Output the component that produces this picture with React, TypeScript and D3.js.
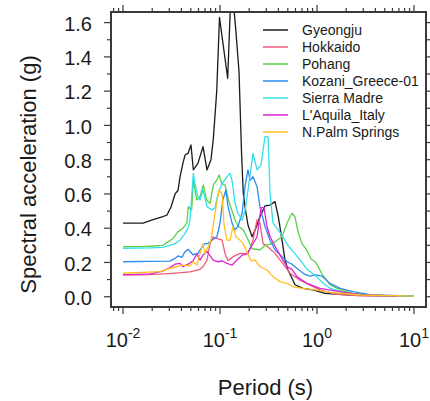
import React from 'react';
import * as d3 from 'd3';

const width = 430;
const height = 401;
// plot frame in page pixels
const plot = { left: 111, right: 426, top: 12, bottom: 307 };

// ---- data (period in s, spectral acceleration in g) ----
const gyeongjuT = [0.01, 0.0161, 0.0204, 0.0258, 0.0284, 0.0313, 0.0344, 0.0369, 0.0387, 0.0415, 0.0436, 0.0468, 0.0502, 0.0531, 0.0593, 0.0668, 0.0734, 0.0807, 0.0853, 0.0925, 0.0988, 0.120, 0.131, 0.146, 0.157, 0.167, 0.174, 0.181, 0.194, 0.214, 0.230, 0.258, 0.291, 0.328, 0.369, 0.399, 0.436, 0.468, 0.502, 0.540, 0.593, 0.718, 0.931, 1.21, 2.19, 5, 10];
const gyeongjuSa = [0.43, 0.43, 0.45, 0.467, 0.477, 0.525, 0.60, 0.62, 0.70, 0.78, 0.827, 0.837, 0.886, 0.74, 0.78, 0.876, 0.74, 0.80, 0.92, 1.2, 1.63, 1.275, 1.85, 1.547, 1.314, 0.827, 0.60, 0.526, 0.42, 0.35, 0.39, 0.467, 0.53, 0.535, 0.555, 0.467, 0.33, 0.214, 0.156, 0.12, 0.07, 0.049, 0.039, 0.02, 0.01, 0.005, 0.004];

const hokkaidoT = [0.01, 0.0161, 0.0241, 0.0344, 0.0491, 0.0622, 0.0668, 0.0734, 0.0789, 0.085, 0.0925, 0.105, 0.113, 0.121, 0.136, 0.161, 0.194, 0.219, 0.241, 0.258, 0.278, 0.313, 0.369, 0.436, 0.527, 0.668, 0.847, 1.07, 1.53, 2.77, 6.68];
const hokkaidoSa = [0.127, 0.128, 0.132, 0.138, 0.145, 0.16, 0.175, 0.214, 0.31, 0.35, 0.34, 0.33, 0.25, 0.21, 0.234, 0.253, 0.25, 0.33, 0.448, 0.43, 0.31, 0.29, 0.253, 0.2, 0.137, 0.097, 0.068, 0.04, 0.015, 0.005, 0.003];

const pohangT = [0.01, 0.0161, 0.0204, 0.0258, 0.0291, 0.0328, 0.0369, 0.0415, 0.0454, 0.0471, 0.0510, 0.0531, 0.0575, 0.0622, 0.0673, 0.0728, 0.0789, 0.0853, 0.0925, 0.0983, 0.104, 0.113, 0.122, 0.132, 0.143, 0.155, 0.174, 0.196, 0.214, 0.258, 0.291, 0.344, 0.387, 0.436, 0.491, 0.552, 0.593, 0.637, 0.700, 0.789, 0.867, 0.977, 1.13, 1.36, 1.73, 2.35, 4.46, 10];
const pohangSa = [0.292, 0.293, 0.296, 0.30, 0.32, 0.34, 0.38, 0.40, 0.43, 0.526, 0.506, 0.68, 0.565, 0.584, 0.652, 0.565, 0.545, 0.652, 0.68, 0.71, 0.66, 0.652, 0.565, 0.506, 0.448, 0.41, 0.39, 0.33, 0.28, 0.273, 0.30, 0.31, 0.33, 0.35, 0.43, 0.487, 0.467, 0.38, 0.31, 0.27, 0.22, 0.20, 0.13, 0.07, 0.04, 0.02, 0.008, 0.003];

const kozaniT = [0.01, 0.019, 0.0305, 0.0344, 0.0369, 0.0406, 0.0436, 0.0468, 0.0527, 0.0593, 0.0652, 0.0700, 0.0752, 0.0827, 0.0931, 0.1, 0.107, 0.115, 0.121, 0.133, 0.143, 0.153, 0.169, 0.181, 0.194, 0.204, 0.219, 0.241, 0.258, 0.291, 0.328, 0.369, 0.436, 0.491, 0.552, 0.637, 0.752, 0.847, 0.953, 1.13, 1.36, 1.73, 2.35, 3.52, 10];
const kozaniSa = [0.204, 0.206, 0.208, 0.224, 0.238, 0.23, 0.263, 0.277, 0.245, 0.253, 0.29, 0.31, 0.31, 0.33, 0.35, 0.43, 0.565, 0.623, 0.526, 0.43, 0.39, 0.41, 0.487, 0.642, 0.74, 0.68, 0.70, 0.642, 0.526, 0.41, 0.33, 0.273, 0.234, 0.204, 0.19, 0.16, 0.13, 0.12, 0.127, 0.12, 0.078, 0.049, 0.03, 0.012, 0.003];

const sierraT = [0.01, 0.019, 0.0258, 0.0305, 0.0344, 0.0387, 0.0436, 0.0468, 0.0491, 0.0531, 0.0552, 0.0593, 0.0622, 0.0668, 0.0734, 0.0827, 0.0888, 0.0953, 0.105, 0.118, 0.127, 0.133, 0.143, 0.153, 0.169, 0.181, 0.194, 0.204, 0.219, 0.241, 0.265, 0.291, 0.313, 0.328, 0.352, 0.399, 0.446, 0.502, 0.593, 0.700, 0.789, 0.977, 1.15, 1.36, 1.94, 3.52, 10];
const sierraSa = [0.283, 0.285, 0.288, 0.30, 0.31, 0.33, 0.37, 0.40, 0.45, 0.72, 0.66, 0.584, 0.565, 0.623, 0.526, 0.506, 0.52, 0.60, 0.66, 0.70, 0.72, 0.68, 0.545, 0.487, 0.448, 0.50, 0.62, 0.71, 0.837, 0.74, 0.77, 0.934, 0.934, 0.60, 0.43, 0.39, 0.35, 0.30, 0.25, 0.20, 0.16, 0.12, 0.08, 0.05, 0.02, 0.008, 0.003];

const aquilaT = [0.01, 0.019, 0.0258, 0.0305, 0.0344, 0.0387, 0.0415, 0.0468, 0.0527, 0.0579, 0.0622, 0.0668, 0.0734, 0.0789, 0.0850, 0.0953, 0.105, 0.118, 0.133, 0.150, 0.169, 0.190, 0.209, 0.241, 0.265, 0.284, 0.305, 0.328, 0.387, 0.446, 0.491, 0.552, 0.622, 0.789, 1.07, 1.73, 2.77, 6.68];
const aquilaSa = [0.127, 0.133, 0.15, 0.17, 0.19, 0.195, 0.175, 0.19, 0.21, 0.25, 0.214, 0.243, 0.265, 0.24, 0.214, 0.204, 0.21, 0.195, 0.185, 0.214, 0.243, 0.25, 0.29, 0.35, 0.52, 0.52, 0.41, 0.35, 0.273, 0.214, 0.175, 0.16, 0.117, 0.078, 0.049, 0.03, 0.012, 0.004];

const palmT = [0.01, 0.0241, 0.0305, 0.0360, 0.0406, 0.0491, 0.0527, 0.0579, 0.0622, 0.0668, 0.0700, 0.0752, 0.0807, 0.0888, 0.0977, 0.105, 0.110, 0.118, 0.127, 0.136, 0.146, 0.161, 0.173, 0.190, 0.209, 0.230, 0.258, 0.305, 0.352, 0.416, 0.491, 0.566, 0.718, 1.0, 1.36, 2.77, 10];
const palmSa = [0.137, 0.146, 0.166, 0.175, 0.185, 0.18, 0.204, 0.185, 0.253, 0.31, 0.253, 0.29, 0.33, 0.49, 0.623, 0.60, 0.42, 0.33, 0.33, 0.41, 0.35, 0.33, 0.31, 0.26, 0.21, 0.214, 0.175, 0.156, 0.117, 0.088, 0.078, 0.058, 0.049, 0.039, 0.025, 0.01, 0.003];

const seriesNames = ['Gyeongju', 'Hokkaido', 'Pohang', 'Kozani_Greece-01', 'Sierra Madre', "L'Aquila_Italy", 'N.Palm Springs'];
const seriesColors = ['#1a1a1a', '#ee5c7a', '#5ccf4a', '#2b8cf0', '#33e0ea', '#e022d2', '#fdc020'];
const seriesT = [gyeongjuT, hokkaidoT, pohangT, kozaniT, sierraT, aquilaT, palmT];
const seriesSa = [gyeongjuSa, hokkaidoSa, pohangSa, kozaniSa, sierraSa, aquilaSa, palmSa];

const yMajorTicks = [0, 0.2, 0.4, 0.6, 0.8, 1.0, 1.2, 1.4, 1.6];
const yMinorTicks = [0.1, 0.3, 0.5, 0.7, 0.9, 1.1, 1.3, 1.5];
const xDecades = [-2, -1, 0, 1];

const fontFamily = '"Liberation Sans", Arial, sans-serif';
const axisColor = '#3a3a3a';

export default function App() {
  const x = d3.scaleLog()
    .domain([Math.pow(10, -2.124), Math.pow(10, 1.124)])
    .range([plot.left, plot.right]);
  const y = d3.scaleLinear()
    .domain([-0.06, 1.662])
    .range([plot.bottom, plot.top]);

  const [d0, d1] = x.domain();
  const xMinor: number[] = [];
  for (let n = -3; n <= 1; n++) {
    for (let k = 2; k <= 9; k++) {
      const v = k * Math.pow(10, n);
      if (v >= d0 && v <= d1) xMinor.push(v);
    }
  }

  const line = d3.line<[number, number]>()
    .x((d) => x(d[0]))
    .y((d) => y(d[1]));

  const majorLen = 7;
  const minorLen = 4;

  return (
    <svg width={width} height={height}
      style={{ position: 'absolute', left: 0, top: 0, background: '#fff' }}
      fontFamily={fontFamily}>
      <defs>
        <clipPath id="plotClip">
          <rect x={plot.left} y={plot.top} width={plot.right - plot.left} height={plot.bottom - plot.top} />
        </clipPath>
      </defs>

      {/* series */}
      <g clipPath="url(#plotClip)">
        {seriesNames.map((name, i) => {
          const pts = seriesT[i].map((t, j) => [t, seriesSa[i][j]] as [number, number]);
          return (
            <path key={name} d={line(pts) || ''} fill="none"
              stroke={seriesColors[i]} strokeWidth={1.3} strokeLinejoin="round" />
          );
        })}
      </g>

      {/* ticks */}
      <g stroke={axisColor} strokeWidth={1.2}>
        {yMajorTicks.map((v) => (
          <g key={'ym' + v}>
            <line x1={plot.left - majorLen} x2={plot.left} y1={y(v)} y2={y(v)} />
            <line x1={plot.right} x2={plot.right + 5} y1={y(v)} y2={y(v)} />
          </g>
        ))}
        {yMinorTicks.map((v) => (
          <g key={'yn' + v}>
            <line x1={plot.left - minorLen} x2={plot.left} y1={y(v)} y2={y(v)} />
            <line x1={plot.right} x2={plot.right + 5} y1={y(v)} y2={y(v)} />
          </g>
        ))}
        {xDecades.map((n) => {
          const px = x(Math.pow(10, n));
          return (
            <g key={'xm' + n}>
              <line x1={px} x2={px} y1={plot.bottom} y2={plot.bottom + majorLen} />
              <line x1={px} x2={px} y1={plot.top} y2={plot.top - majorLen} />
            </g>
          );
        })}
        {xMinor.map((v) => (
          <g key={'xn' + v}>
            <line x1={x(v)} x2={x(v)} y1={plot.bottom} y2={plot.bottom + minorLen} />
            <line x1={x(v)} x2={x(v)} y1={plot.top} y2={plot.top - minorLen} />
          </g>
        ))}
      </g>

      {/* frame */}
      <rect x={plot.left} y={plot.top} width={plot.right - plot.left} height={plot.bottom - plot.top}
        fill="none" stroke={axisColor} strokeWidth={2} />

      {/* y tick labels */}
      {yMajorTicks.map((v) => (
        <text key={'yl' + v} x={92} y={y(v) + 8.3} textAnchor="end" fontSize={20} fill="#1a1a1a">
          {v.toFixed(1)}
        </text>
      ))}

      {/* x tick labels */}
      {xDecades.map((n) => (
        <text key={'xl' + n} x={x(Math.pow(10, n))} y={346.5} textAnchor="middle" fontSize={20} fill="#1a1a1a">
          <tspan>10</tspan>
          <tspan dy={-8.5} fontSize={14}>{n < 0 ? '-' + Math.abs(n) : String(n)}</tspan>
        </text>
      ))}

      {/* axis titles */}
      <text x={(plot.left + plot.right) / 2 - 3} y={395} textAnchor="middle" fontSize={22} fill="#1a1a1a">
        Period (s)
      </text>
      <text transform={`translate(36,${174.5}) rotate(-90)`} textAnchor="middle" fontSize={22} fill="#1a1a1a">
        Spectral acceleration (g)
      </text>

      {/* legend */}
      {seriesNames.map((name, i) => {
        const ly = 30 + i * 17;
        return (
          <g key={'lg' + name}>
            <line x1={263} x2={288} y1={ly} y2={ly} stroke={seriesColors[i]} strokeWidth={1.5} />
            <text x={302} y={ly + 4.7} fontSize={14} fill="#1a1a1a">{name}</text>
          </g>
        );
      })}
    </svg>
  );
}
